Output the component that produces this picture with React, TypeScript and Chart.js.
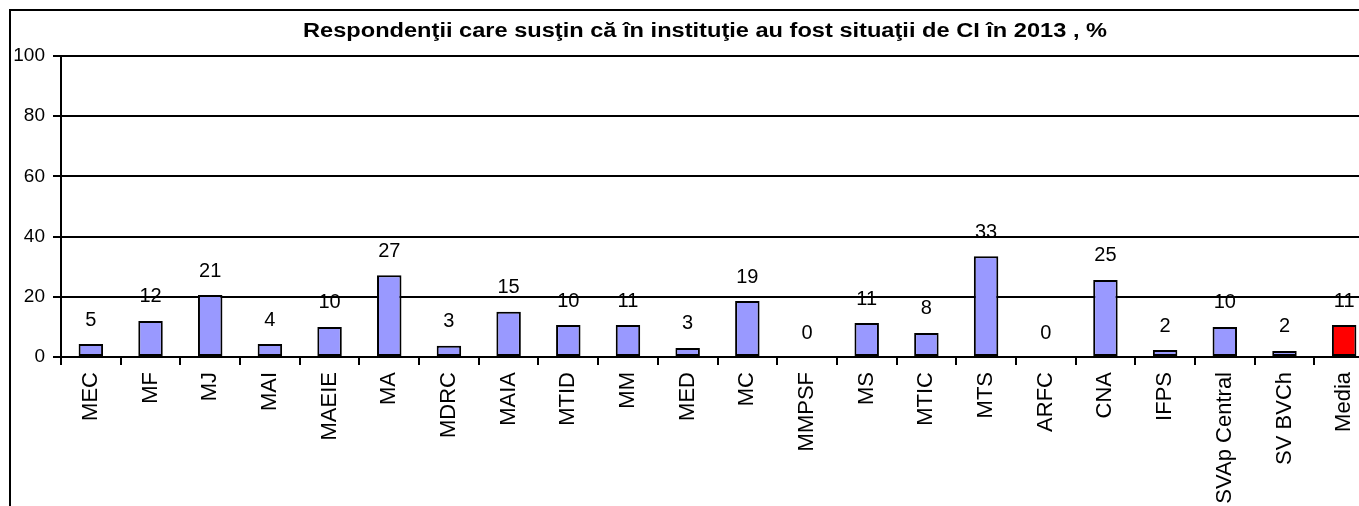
import React, { useEffect, useRef } from "react";
import { Chart, registerables } from "chart.js";

Chart.register(...registerables);

const TITLE = "Respondenţii care susţin că în instituţie au fost situaţii de CI în 2013 , %";

const categories = [
  "MEC", "MF", "MJ", "MAI", "MAEIE", "MA", "MDRC", "MAIA", "MTID", "MM", "MED",
  "MC", "MMPSF", "MS", "MTIC", "MTS", "ARFC", "CNA", "IFPS", "SVAp Central", "SV BVCh", "Media",
];

const values = [
  4.3, 12, 20.6, 4.3, 10, 27.2, 3.7, 15, 10.6, 10.6, 3,
  18.6, 0, 11.3, 8, 33.5, 0, 25.6, 2.3, 10, 2, 10.6,
];

const valueLabels = [
  "5", "12", "21", "4", "10", "27", "3", "15", "10", "11", "3",
  "19", "0", "11", "8", "33", "0", "25", "2", "10", "2", "11",
];

const yTicks = [0, 20, 40, 60, 80, 100];

const FONT = "'Liberation Sans', Arial, sans-serif";

export default function App() {
  const ref = useRef<HTMLCanvasElement | null>(null);

  useEffect(() => {
    if (!ref.current) return;
    const colors = categories.map((c) => (c === "Media" ? "#FF0000" : "#9999FF"));

    const framePlugin = {
      id: "frame",
      beforeDraw(chart: any) {
        const ctx = chart.ctx;
        ctx.save();
        ctx.fillStyle = "#ffffff";
        ctx.fillRect(0, 0, chart.width, chart.height);
        ctx.strokeStyle = "#000";
        ctx.lineWidth = 2;
        ctx.strokeRect(10, 10, 1390, 700);
        ctx.restore();

        ctx.save();
        ctx.fillStyle = "#000";
        ctx.font = `bold 20px ${FONT}`;
        ctx.textAlign = "center";
        ctx.textBaseline = "middle";
        const w = ctx.measureText(TITLE).width;
        const sx = 804 / w;
        ctx.translate(705, 31);
        ctx.scale(sx, 1);
        ctx.fillText(TITLE, 0, 0);
        ctx.restore();
      },
    };

    const labelPlugin = {
      id: "valueLabels",
      afterDatasetsDraw(chart: any) {
        const ctx = chart.ctx;
        const meta = chart.getDatasetMeta(0);
        ctx.save();
        ctx.fillStyle = "#000";
        ctx.font = `20px ${FONT}`;
        ctx.textAlign = "center";
        ctx.textBaseline = "middle";
        meta.data.forEach((bar: any, i: number) => {
          ctx.fillText(valueLabels[i], bar.x, bar.y - 24);
        });
        ctx.restore();
      },
    };

    const chart = new Chart(ref.current, {
      type: "bar",
      data: {
        labels: categories,
        datasets: [
          {
            data: values,
            backgroundColor: colors,
            borderColor: "#000",
            borderWidth: 2,
            borderSkipped: false,
            categoryPercentage: 1,
            barPercentage: 0.41,
          },
        ],
      },
      options: {
        responsive: false,
        animation: false,
        layout: { padding: { left: 0, right: 36, top: 56, bottom: 0 } },
        plugins: {
          legend: { display: false },
          title: { display: false },
          tooltip: { enabled: false },
        },
        scales: {
          x: {
            offset: true,
            grid: {
              offset: true,
              drawOnChartArea: false,
              drawTicks: true,
              tickLength: 8,
              color: "#000",
              lineWidth: 2,
            },
            border: { display: true, color: "#000", width: 2 },
            ticks: {
              autoSkip: false,
              maxRotation: 90,
              minRotation: 90,
              padding: 7,
              color: "#000",
              font: { family: FONT, size: 22 },
            },
            afterFit(scale: any) {
              scale.height = 560 - 357;
            },
          },
          y: {
            min: 0,
            max: 100,
            afterBuildTicks(scale: any) {
              scale.ticks = yTicks.map((v) => ({ value: v }));
            },
            grid: {
              color: "#000",
              lineWidth: 2,
              tickLength: 8,
              drawTicks: true,
            },
            border: { display: true, color: "#000", width: 2 },
            ticks: {
              padding: 8,
              color: "#000",
              font: { family: FONT, size: 19 },
            },
            afterFit(scale: any) {
              scale.width = 61;
            },
          },
        },
      },
      plugins: [framePlugin, labelPlugin],
    });

    return () => chart.destroy();
  }, []);

  return (
    <div
      style={{
        position: "fixed",
        left: 0,
        top: 0,
        width: 1359,
        height: 506,
        overflow: "hidden",
        background: "#fff",
      }}
    >
      <canvas ref={ref} width={1410} height={560} style={{ display: "block" }} />
    </div>
  );
}
